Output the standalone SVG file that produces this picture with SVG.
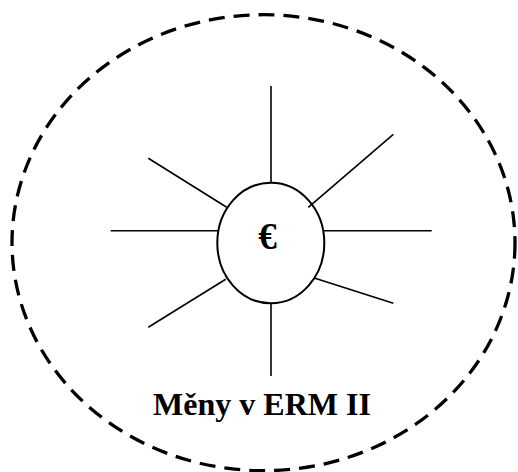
<svg xmlns="http://www.w3.org/2000/svg" width="518" height="472" viewBox="0 0 518 472">
<style>
.ray{stroke:#000;stroke-width:1.6;fill:none}
.lbl{font-family:"Liberation Serif","Times New Roman",serif;font-weight:bold;fill:#000}
</style>
<rect width="518" height="472" fill="#fff"/>
<g id="erm2">
<ellipse cx="263.5" cy="242.7" rx="251.5" ry="228" fill="none" stroke="#000" stroke-width="3.3" stroke-dasharray="16,9"/>
<text class="lbl" x="262" y="415" font-size="32" text-anchor="middle">Měny v ERM II</text>
</g>
<g id="euro">
<ellipse cx="270.8" cy="243" rx="53.5" ry="60.3" fill="none" stroke="#000" stroke-width="2"/>
<text class="lbl" x="267.5" y="248.5" font-size="37" text-anchor="middle">€</text>
</g>
<g id="connectors">
<line class="ray" x1="271" y1="86" x2="271" y2="183"/>
<line class="ray" x1="271" y1="303" x2="271" y2="376"/>
<line class="ray" x1="110.7" y1="230.7" x2="218" y2="230.7"/>
<line class="ray" x1="323.7" y1="230.7" x2="431.7" y2="230.7"/>
<line class="ray" x1="148.3" y1="158.3" x2="226.7" y2="207.3"/>
<line class="ray" x1="393.3" y1="134.3" x2="308.3" y2="207.3"/>
<line class="ray" x1="148.3" y1="327.3" x2="225.7" y2="279.3"/>
<line class="ray" x1="315" y1="278.3" x2="393.3" y2="303.3"/>
</g>
</svg>
